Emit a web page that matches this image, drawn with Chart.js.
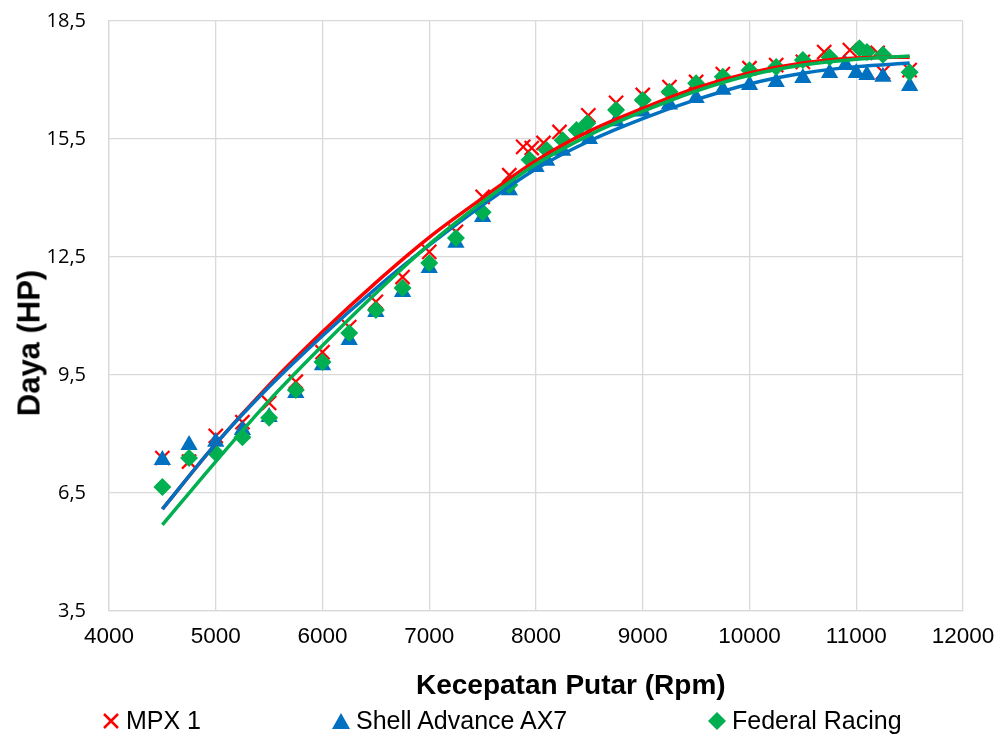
<!DOCTYPE html>
<html>
<head>
<meta charset="utf-8">
<script src="https://cdn.jsdelivr.net/npm/chart.js@4/dist/chart.umd.min.js"></script>
<style>
  html, body { margin: 0; padding: 0; background: #fff; }
  #wrap { position: relative; width: 999px; height: 736px; overflow: hidden; font-family: 'Liberation Sans', sans-serif; color: #000; }
  #legend { position: absolute; top: 704px; left: 0; width: 999px; height: 32px; font-size: 25px; }
  #legend .item { position: absolute; top: 0; white-space: nowrap; line-height: 32px; }
  #legend svg { vertical-align: -2px; margin-right: 4px; }
  .axis-title { position: absolute; font-weight: bold; white-space: nowrap; line-height: 1; }
  #xtitle { left: 416px; top: 671px; font-size: 28px; }
  #ytitle { left: 29px; top: 343px; font-size: 31px; transform: translate(-50%, -50%) rotate(-90deg); }
</style>
</head>
<body>
<div id="wrap">
  <canvas id="chart" width="999" height="736"></canvas>
  <div class="axis-title" id="xtitle">Kecepatan Putar (Rpm)</div>
  <div class="axis-title" id="ytitle">Daya (HP)</div>
  <div id="legend">
    <span class="item" style="left:100px"><svg width="22" height="20"><path d="M4 3 L18 17 M18 3 L4 17" stroke="#ff0000" stroke-width="2.5"/></svg>MPX 1</span>
    <span class="item" style="left:330px"><svg width="22" height="20"><path d="M11 2 L20 18 L2 18 Z" fill="#0070c0"/></svg>Shell Advance AX7</span>
    <span class="item" style="left:706px"><svg width="22" height="20"><path d="M11 1 L20 10 L11 19 L2 10 Z" fill="#00b050"/></svg>Federal Racing</span>
  </div>
</div>
<script>
// measured points
const mpxRpm = [4500, 4750, 5000, 5250, 5500, 5750, 6000, 6250, 6500, 6750, 7000, 7250, 7500, 7750, 7880, 7960, 8070, 8220, 8490, 8750, 9000, 9250, 9500, 9750, 10000, 10250, 10500, 10700, 10940, 11200, 11250, 11500];
const mpxDaya = [7.39, 7.3, 7.95, 8.3, 8.79, 9.33, 10.08, 10.72, 11.36, 11.99, 12.63, 13.14, 14.03, 14.58, 15.3, 15.27, 15.4, 15.68, 16.1, 16.42, 16.62, 16.82, 16.95, 17.15, 17.3, 17.38, 17.46, 17.71, 17.76, 17.69, 17.2, 17.25];

const shellRpm = [4500, 4750, 5000, 5250, 5500, 5750, 6000, 6250, 6500, 6750, 7000, 7250, 7500, 7750, 8000, 8100, 8250, 8500, 8750, 9000, 9250, 9500, 9750, 10000, 10250, 10500, 10750, 10900, 11000, 11100, 11250, 11500];
const shellDaya = [7.34, 7.72, 7.8, 8.1, 8.43, 9.04, 9.75, 10.39, 11.1, 11.61, 12.22, 12.86, 13.52, 14.2, 14.79, 14.95, 15.2, 15.5, 15.95, 16.2, 16.38, 16.54, 16.75, 16.87, 16.95, 17.05, 17.18, 17.38, 17.18, 17.13, 17.08, 16.85];

const fedRpm = [4500, 4750, 5000, 5250, 5500, 5750, 6000, 6250, 6500, 6750, 7000, 7250, 7500, 7750, 7940, 8100, 8250, 8380, 8480, 8750, 9000, 9250, 9500, 9750, 10000, 10250, 10500, 10750, 11030, 11100, 11250, 11500];
const fedDaya = [6.65, 7.39, 7.52, 7.92, 8.41, 9.12, 9.83, 10.57, 11.15, 11.71, 12.35, 12.98, 13.64, 14.33, 14.97, 15.22, 15.47, 15.73, 15.9, 16.24, 16.49, 16.7, 16.92, 17.08, 17.25, 17.33, 17.51, 17.58, 17.81, 17.71, 17.64, 17.2];

// trend lines
const fitRpm = [4500, 5000, 5500, 6000, 6500, 7000, 7500, 8000, 8500, 9000, 9500, 10000, 10500, 11000, 11500];
const mpxFit = [6.09, 7.75, 9.25, 10.6, 11.85, 13.0, 14.0, 14.95, 15.7, 16.28, 16.8, 17.18, 17.43, 17.56, 17.58];
const shellFit = [6.09, 7.75, 9.2, 10.5, 11.7, 12.8, 13.82, 14.74, 15.45, 16.02, 16.5, 16.9, 17.17, 17.34, 17.43];
const fedFit = [5.69, 7.3, 8.85, 10.25, 11.58, 12.82, 13.9, 14.86, 15.6, 16.2, 16.72, 17.12, 17.38, 17.53, 17.61];

const xTicks = [4000, 5000, 6000, 7000, 8000, 9000, 10000, 11000, 12000];
const yTicks = [3.5, 6.5, 9.5, 12.5, 15.5, 18.5];

const RED = '#ff0000', BLUE = '#0070c0', GREEN = '#00b050';

const pts = (xs, ys) => xs.map((x, i) => ({ x: x, y: ys[i] }));

function markers(label, xs, ys, color, style, radius, order) {
    return {
        label: label,
        data: pts(xs, ys),
        pointStyle: style,
        pointRadius: radius,
        pointBackgroundColor: color,
        pointBorderColor: color,
        pointBorderWidth: style === 'crossRot' ? 2.2 : 0,
        showLine: false,
        order: order
    };
}

function trend(xs, ys, color, order) {
    return {
        label: 'trend',
        data: pts(xs, ys),
        showLine: true,
        borderColor: color,
        borderWidth: 3.5,
        pointRadius: 0,
        cubicInterpolationMode: 'monotone',
        order: order
    };
}

const font = 'Liberation Sans';

new Chart(document.getElementById('chart'), {
    type: 'scatter',
    data: {
        datasets: [
            markers('MPX 1', mpxRpm, mpxDaya, RED, 'crossRot', 10, 6),
            markers('Shell Advance AX7', shellRpm, shellDaya, BLUE, 'triangle', 10, 5),
            markers('Federal Racing', fedRpm, fedDaya, GREEN, 'rectRot', 9, 4),
            trend(fitRpm, mpxFit, RED, 3),
            trend(fitRpm, shellFit, BLUE, 2),
            trend(fitRpm, fedFit, GREEN, 1)
        ]
    },
    options: {
        responsive: false,
        animation: false,
        devicePixelRatio: 1,
        layout: { padding: { left: 13, right: 36, top: 21, bottom: 0 } },
        plugins: { legend: { display: false }, tooltip: { enabled: false } },
        scales: {
            x: {
                type: 'linear',
                min: 4000,
                max: 12000,
                afterBuildTicks: axis => { axis.ticks = xTicks.map(v => ({ value: v })); },
                afterFit: axis => { axis.height = 125; axis.paddingLeft = 0; axis.paddingRight = 0; },
                grid: { color: '#d9d9d9', lineWidth: 1.3, drawTicks: false },
                border: { color: '#d9d9d9', width: 1.3 },
                ticks: { color: '#000', font: { family: font, size: 22.5 }, padding: 12, maxRotation: 0, callback: v => String(v) }
            },
            y: {
                min: 3.5,
                max: 18.5,
                afterBuildTicks: axis => { axis.ticks = yTicks.map(v => ({ value: v })); },
                afterFit: axis => { axis.width = 96; axis.paddingTop = 0; axis.paddingBottom = 0; },
                grid: { color: '#d9d9d9', lineWidth: 1.3, drawTicks: false },
                border: { color: '#d9d9d9', width: 1.3 },
                ticks: { color: '#000', font: { family: 'Open Sans', size: 20 }, padding: 23, callback: v => v.toFixed(1).replace('.', ',') }
            }
        }
    }
});
</script>
</body>
</html>
